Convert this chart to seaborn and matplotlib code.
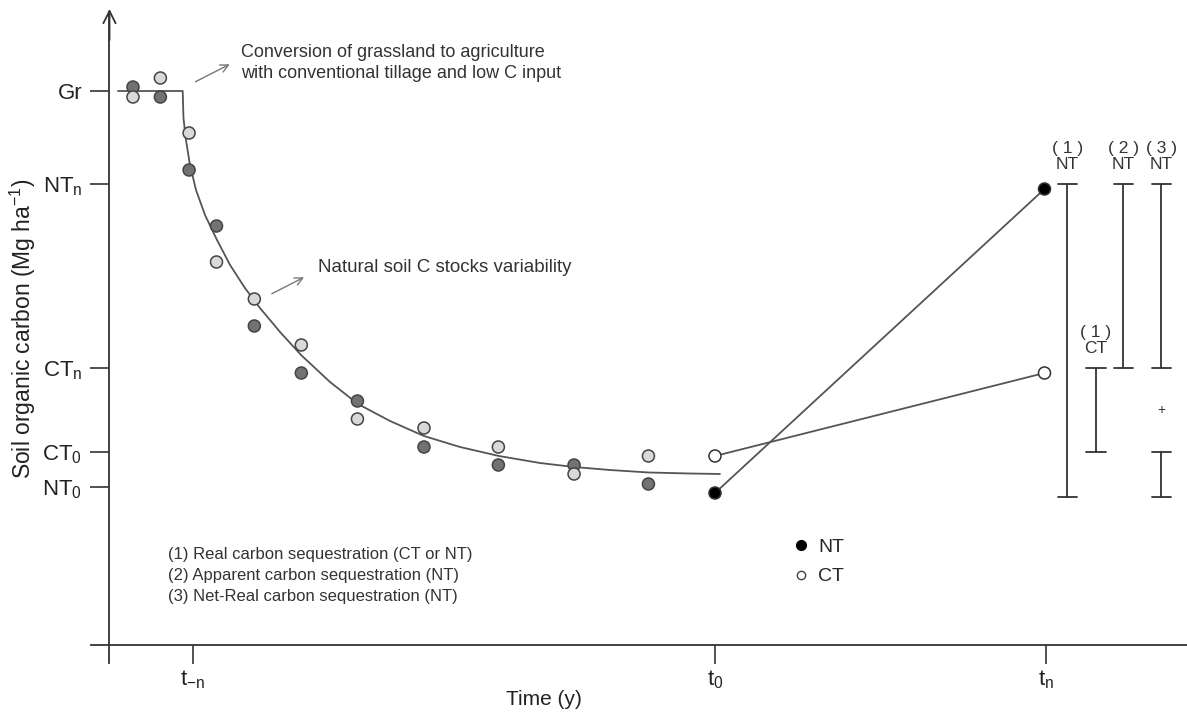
import matplotlib
matplotlib.use("Agg")
import matplotlib.pyplot as plt
from matplotlib.lines import Line2D
import pandas as pd
import seaborn as sns

# Reference levels of soil organic carbon (Mg ha-1) shown on the y axis
level_labels = ["Gr", "NT$_\\mathregular{n}$", "CT$_\\mathregular{n}$",
                "CT$_\\mathregular{0}$", "NT$_\\mathregular{0}$"]
level_values = [55.4, 46.1, 27.7, 19.35, 15.8]

# Time marks (years relative to t0)
time_labels = ["t$_\\mathregular{-n}$", "t$_\\mathregular{0}$", "t$_\\mathregular{n}$"]
time_values = [-40.0, 0.0, 25.4]

# Sampled SOC stocks after grassland conversion (two replicate sites)
sample_time = [-44.6, -42.5, -40.3, -38.2, -35.3, -31.7, -27.4, -22.3, -16.6, -10.8, -5.1]
site_a_soc = [55.8, 54.8, 47.5, 41.9, 31.9, 27.2, 24.4, 19.8, 18.0, 18.0, 16.1]
site_b_soc = [54.8, 56.7, 51.2, 38.3, 34.6, 30.0, 22.6, 21.7, 19.8, 17.1, 18.9]

# Decline curve: grassland steady state, then loss under tillage
curve_time = [-45.75, -40.79, -40.73, -40.54, -40.23, -39.77, -39.08, -38.16, -37.16,
              -36.02, -34.87, -33.33, -31.72, -29.50, -27.36, -24.90, -22.30, -19.54,
              -16.55, -13.41, -10.80, -8.05, -5.06, -1.92, 0.38]
curve_soc = [55.4, 55.4, 52.7, 50.5, 48.0, 45.5, 43.0, 40.5, 38.0,
             35.7, 33.7, 31.3, 29.0, 26.3, 24.1, 22.4, 20.9, 19.8,
             18.9, 18.2, 17.8, 17.5, 17.25, 17.15, 17.1]

# Management comparison between t0 and tn
mgmt_time = [0.0, 25.25]
nt_soc = [15.2, 45.6]
ct_soc = [18.9, 27.2]

# Sequestration ranges: x position, lower, upper, label
bracket_x = [27.0, 29.2, 31.3, 34.2, 34.2]
bracket_low = [14.8, 19.35, 27.7, 27.7, 14.8]
bracket_high = [46.1, 27.7, 46.1, 46.1, 19.35]
bracket_text = ["( 1 )\nNT", "( 1 )\nCT", "( 2 )\nNT", "( 3 )\nNT", ""]

notes = ["(1) Real carbon sequestration (CT or NT)",
         "(2) Apparent carbon sequestration (NT)",
         "(3) Net-Real carbon sequestration (NT)"]

sns.set_theme(style="white")
plt.rcParams["font.family"] = ["Liberation Sans", "DejaVu Sans"]
plt.rcParams["mathtext.fontset"] = "custom"
plt.rcParams["mathtext.rm"] = "Liberation Sans"
plt.rcParams["mathtext.it"] = "Liberation Sans:italic"

INK = "#333333"
LINE = "#555555"
TXT = "#222222"

fig = plt.figure(figsize=(11.87, 7.15), dpi=100)
ax = fig.add_axes([0, 0, 1, 1])

# Decline curve and sampled stocks
curve_df = pd.DataFrame({"time": curve_time, "soc": curve_soc})
sns.lineplot(data=curve_df, x="time", y="soc", ax=ax, color=LINE, lw=1.3,
             sort=False, estimator=None, zorder=2)

samples = pd.DataFrame({
    "time": sample_time * 2,
    "soc": site_a_soc + site_b_soc,
    "site": ["a"] * len(sample_time) + ["b"] * len(sample_time),
})
sns.scatterplot(data=samples, x="time", y="soc", hue="site",
                palette={"a": "#727272", "b": "#d9d9d9"}, s=75,
                edgecolor="#444444", linewidth=1.1, legend=False, ax=ax, zorder=3)

# Management trajectories
mgmt = pd.DataFrame({"time": mgmt_time * 2, "soc": nt_soc + ct_soc,
                     "system": ["NT"] * 2 + ["CT"] * 2})
sns.lineplot(data=mgmt, x="time", y="soc", units="system", estimator=None,
             color=LINE, lw=1.3, ax=ax, zorder=2)
sns.scatterplot(data=mgmt, x="time", y="soc", hue="system",
                palette={"NT": "#000000", "CT": "#ffffff"}, s=75,
                edgecolor="#333333", linewidth=1.1, legend=False, ax=ax, zorder=4)

ax.set_xlim(-54.79, 36.17)
ax.set_ylim(-7.0, 64.5)

# Axes as crossing lines
yaxis_x = -46.4
for side in ("top", "right"):
    ax.spines[side].set_visible(False)
ax.spines["left"].set_position(("data", yaxis_x))
ax.spines["bottom"].set_position(("data", 0))
ax.spines["left"].set_bounds(-1.8, 63.3)
ax.spines["bottom"].set_bounds(-47.8, 36.17)
for side in ("left", "bottom"):
    ax.spines[side].set_color(INK)
    ax.spines[side].set_linewidth(1.3)
ax.annotate("", xy=(yaxis_x, 63.6), xytext=(yaxis_x, 60.5),
            arrowprops=dict(arrowstyle="->", color=INK, lw=1.3, mutation_scale=22,
                            shrinkA=0, shrinkB=0))

ax.set_yticks(level_values, level_labels)
ax.set_xticks(time_values, time_labels)
ax.tick_params(axis="y", left=True, direction="out", length=13.5, width=1.2,
               color=INK, pad=6, labelsize=16, labelcolor=TXT)
ax.tick_params(axis="x", bottom=True, direction="out", length=13.5, width=1.2,
               color=INK, pad=3, labelsize=16, labelcolor=TXT)
ax.grid(False)

ax.set_ylabel("Soil organic carbon (Mg ha$^{\\mathregular{-1}}$)", fontsize=16.5,
              color=TXT, va="center")
ax.yaxis.set_label_coords(0.019, 0.54)
ax.set_xlabel("Time (y)", fontsize=15, color=TXT, va="center")
ax.xaxis.set_label_coords(0.458, 0.021)

# Sequestration brackets
cap = 0.75
for x, lo, hi, lab in zip(bracket_x, bracket_low, bracket_high, bracket_text):
    ax.plot([x, x], [lo, hi], color=INK, lw=1.3)
    ax.plot([x - cap, x + cap], [lo, lo], color=INK, lw=1.3)
    ax.plot([x - cap, x + cap], [hi, hi], color=INK, lw=1.3)
    if lab:
        ax.text(x, hi + 1.2, lab, ha="center", va="bottom", fontsize=12.5,
                color=INK, linespacing=1.12)
ax.text(bracket_x[3], (bracket_low[3] + bracket_high[4]) / 2, "+", ha="center",
        va="center", fontsize=10, color=INK)

# Annotations
ax.annotate("", xy=(-37.0, 58.2), xytext=(-40.0, 56.2),
            arrowprops=dict(arrowstyle="->", color="#777777", lw=1.0, mutation_scale=14))
ax.text(-36.3, 58.2, "Conversion of grassland to agriculture\nwith conventional tillage and low C input",
        ha="left", va="center", fontsize=13, color=INK, linespacing=1.35)
ax.annotate("", xy=(-31.3, 36.9), xytext=(-34.15, 35.0),
            arrowprops=dict(arrowstyle="->", color="#777777", lw=1.0, mutation_scale=14))
ax.text(-30.4, 37.7, "Natural soil C stocks variability", ha="left", va="center",
        fontsize=13.5, color=INK)

ax.text(-41.9, 9.8, "\n".join(notes), ha="left", va="top", fontsize=12,
        color=INK, linespacing=1.5)

handles = [Line2D([], [], ls="none", marker="o", ms=7, mfc="#000000", mec="#000000"),
           Line2D([], [], ls="none", marker="o", ms=6, mfc="#ffffff", mec="#444444")]
ax.legend(handles, ["NT", "CT"], loc="center left", bbox_to_anchor=(0.668, 0.214),
          frameon=False, fontsize=14, handlelength=0.8, handletextpad=0.5,
          labelspacing=0.6, borderpad=0, borderaxespad=0)

fig.savefig("out.png", dpi=100)
